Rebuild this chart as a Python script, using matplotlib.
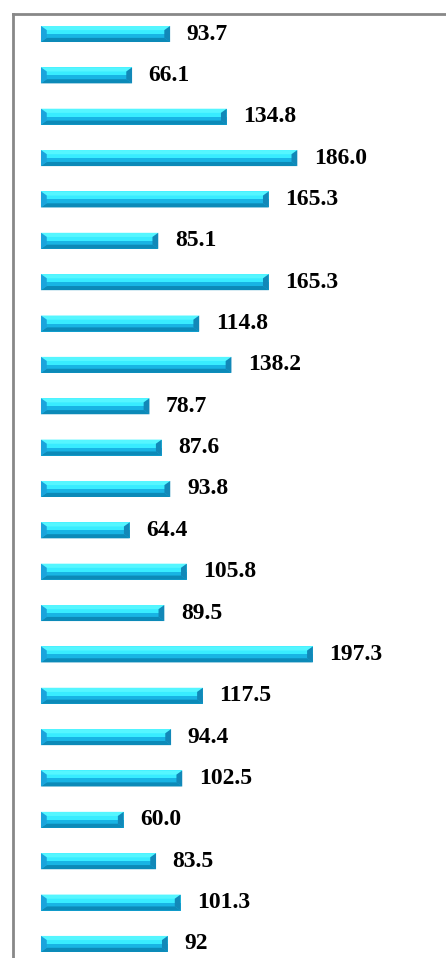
import matplotlib.pyplot as plt
from matplotlib.patches import Polygon

values = [93.7, 66.1, 134.8, 186.0, 165.3, 85.1, 165.3, 114.8, 138.2, 78.7, 87.6, 93.8,
          64.4, 105.8, 89.5, 197.3, 117.5, 94.4, 102.5, 60.0, 83.5, 101.3, 92]
labels = ['93.7', '66.1', '134.8', '186.0', '165.3', '85.1', '165.3', '114.8', '138.2', '78.7',
          '87.6', '93.8', '64.4', '105.8', '89.5', '197.3', '117.5', '94.4', '102.5', '60.0',
          '83.5', '101.3', '92']

fig = plt.figure(figsize=(4.46, 9.58), dpi=100)
ax = fig.add_axes([13 / 446, 0, 1 - 13 / 446, 1 - 14 / 958])

ypos = list(range(len(values)))
h = 0.387
bars = ax.barh(ypos, values, height=h, color='#22cdf0', edgecolor='none')

# bevel sizes in data units
bx = 4.2
by = 0.1
for y, v in zip(ypos, values):
    y0, y1 = y - h / 2, y + h / 2  # y0 is top (axis inverted)
    # upper / lower halves of face
    ax.add_patch(Polygon([(0, y0), (v, y0), (v, y), (0, y)], closed=True, color='#38ecff', lw=0))
    ax.add_patch(Polygon([(0, y), (v, y), (v, y1), (0, y1)], closed=True, color='#18b4e4', lw=0))
    # top bevel
    ax.add_patch(Polygon([(0, y0), (v, y0), (v - bx, y0 + by), (bx, y0 + by)],
                         closed=True, color='#55f6ff', lw=0))
    # bottom bevel
    ax.add_patch(Polygon([(0, y1), (v, y1), (v - bx, y1 - by), (bx, y1 - by)],
                         closed=True, color='#0c8ab8', lw=0))
    # left bevel
    ax.add_patch(Polygon([(0, y0), (bx, y0 + by), (bx, y1 - by), (0, y1)],
                         closed=True, color='#1aa4dc', lw=0))
    # right bevel
    ax.add_patch(Polygon([(v, y0), (v - bx, y0 + by), (v - bx, y1 - by), (v, y1)],
                         closed=True, color='#1288b8', lw=0))
    ax.annotate(labels[y], (v, y), xytext=(12, 0), textcoords='offset points',
                va='center', ha='left', fontsize=17, fontweight='bold',
                family='Liberation Serif', color='black')

ax.set_xlim(-20.3, 293.9)
ax.set_ylim(22.34, -0.4836)
ax.set_xticks([])
ax.set_yticks([])
for s in ['right', 'bottom']:
    ax.spines[s].set_visible(False)
for s in ['left', 'top']:
    ax.spines[s].set_color('#888888')
    ax.spines[s].set_linewidth(2)

fig.savefig('out.png', dpi=100)
